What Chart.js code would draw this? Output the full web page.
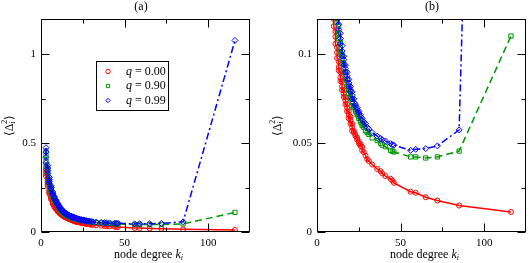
<!DOCTYPE html>
<html>
<head>
<meta charset="utf-8">
<script src="https://cdn.jsdelivr.net/npm/chart.js@4.4.1/dist/chart.umd.min.js"></script>
<style>
html, body { margin: 0; padding: 0; background: #fff; }
#wrap { position: relative; width: 531px; height: 263px; }
canvas { position: absolute; top: 0; }
</style>
</head>
<body>
<div id="wrap">
  <canvas id="chartA" width="265" height="263" style="left:0"></canvas>
  <canvas id="chartB" width="266" height="263" style="left:265px"></canvas>
</div>
<script>
// node degrees k_i (one entry per plotted node, sorted)
const degrees = [
  3, 3, 3, 3, 4, 4, 4, 4, 5, 5, 5, 5, 6, 6, 6, 7, 7, 7, 8, 8, 8,
  9, 9, 9, 10, 10, 10, 11, 11, 11, 12, 12, 12, 13, 13, 13, 14, 14, 14,
  15, 15, 15, 16, 16, 16, 17, 17, 17, 18, 18, 18, 19, 19, 19, 20, 20, 20, 21, 21, 21,
  22, 22, 23, 23, 24, 24, 25, 25, 26, 26, 27, 27,
  28, 29, 30, 31, 33, 36, 38, 39, 41, 44, 45, 46,
  56, 59, 65, 72, 85, 116
];

// <Delta_i^2> for q = 0.00
const q000 = [
  0.355, 0.345, 0.33, 0.315, 0.29, 0.28, 0.27, 0.26, 0.238, 0.23, 0.222, 0.214,
  0.20, 0.192, 0.184, 0.173, 0.166, 0.159, 0.152, 0.146, 0.14,
  0.137, 0.133, 0.129, 0.123, 0.12, 0.116, 0.113, 0.11, 0.106, 0.104, 0.101, 0.098,
  0.096, 0.093, 0.091, 0.09, 0.087, 0.085,
  0.085, 0.082, 0.080, 0.08, 0.078, 0.076, 0.076, 0.074, 0.072, 0.072, 0.07, 0.068,
  0.068, 0.066, 0.064, 0.065, 0.063, 0.061, 0.061, 0.059, 0.057,
  0.057, 0.056, 0.055, 0.054, 0.053, 0.052, 0.051, 0.050, 0.0495, 0.0485, 0.048, 0.046,
  0.045, 0.043, 0.041, 0.040, 0.038, 0.0355, 0.0343, 0.033, 0.0315, 0.030, 0.029, 0.0277,
  0.0227, 0.0221, 0.0196, 0.0177, 0.0149, 0.0113
];

// <Delta_i^2> for q = 0.90
const q090 = [
  0.455, 0.43, 0.40, 0.37, 0.36, 0.345, 0.33, 0.315, 0.292, 0.282, 0.272, 0.262,
  0.247, 0.238, 0.229, 0.214, 0.207, 0.2, 0.188, 0.182, 0.176,
  0.169, 0.165, 0.161, 0.152, 0.148, 0.144, 0.138, 0.134, 0.13, 0.126, 0.122, 0.118,
  0.116, 0.112, 0.109, 0.107, 0.104, 0.101,
  0.1, 0.097, 0.095, 0.095, 0.092, 0.09, 0.09, 0.088, 0.086, 0.086, 0.084, 0.082,
  0.082, 0.08, 0.078, 0.078, 0.076, 0.075, 0.075, 0.073, 0.071,
  0.071, 0.070, 0.069, 0.068, 0.067, 0.066, 0.065, 0.064, 0.063, 0.062, 0.061, 0.060,
  0.059, 0.057, 0.056, 0.055, 0.053, 0.0515, 0.050, 0.049, 0.048, 0.046, 0.0455, 0.0451,
  0.0423, 0.0423, 0.0417, 0.0423, 0.0456, 0.1104
];

// <Delta_i^2> for q = 0.99
const q099 = [
  0.475, 0.45, 0.42, 0.39, 0.375, 0.36, 0.345, 0.33, 0.308, 0.297, 0.286, 0.275,
  0.26, 0.251, 0.242, 0.226, 0.218, 0.21, 0.199, 0.193, 0.187,
  0.179, 0.174, 0.169, 0.161, 0.156, 0.152, 0.146, 0.141, 0.137, 0.132, 0.128, 0.124,
  0.121, 0.117, 0.114, 0.112, 0.109, 0.106,
  0.105, 0.102, 0.099, 0.099, 0.097, 0.094, 0.094, 0.092, 0.09, 0.09, 0.088, 0.086,
  0.086, 0.084, 0.082, 0.082, 0.08, 0.079, 0.079, 0.077, 0.075,
  0.075, 0.073, 0.072, 0.071, 0.070, 0.069, 0.068, 0.067, 0.066, 0.065, 0.064, 0.063,
  0.062, 0.061, 0.059, 0.058, 0.056, 0.054, 0.0527, 0.052, 0.0513, 0.0498, 0.0492, 0.0489,
  0.046, 0.0466, 0.047, 0.0485, 0.0575, 1.079
];

const qLabels = ['0.00', '0.90', '0.99'];
const xTicksMinor = [25, 75];
const yTicksMinorA = [0.25, 0.75];
const yTicksMinorB = [0.025, 0.075];

const SERIF = '"Liberation Serif", "Times New Roman", serif';
const RED = 'rgb(255,0,0)', GREEN = 'rgb(0,150,0)', BLUE = 'rgb(0,0,255)';

// draws a run of text pieces (italic / sub / superscript), centred on x
function richText(ctx, parts, x, y) {
  let w = 0;
  parts.forEach(p => {
    ctx.font = (p.italic ? 'italic ' : '') + (p.size || 12) + 'px ' + SERIF;
    p.w = ctx.measureText(p.t).width;
    if (p.adv !== false) w += p.w;
  });
  let cx = x - w / 2;
  ctx.textBaseline = 'middle';
  ctx.textAlign = 'left';
  parts.forEach(p => {
    ctx.font = (p.italic ? 'italic ' : '') + (p.size || 12) + 'px ' + SERIF;
    ctx.fillText(p.t, cx, y + (p.dy || 0));
    if (p.adv !== false) cx += p.w;
  });
}

function marker(ctx, style, color, x, y, r) {
  ctx.strokeStyle = color;
  ctx.lineWidth = 1;
  ctx.setLineDash([]);
  ctx.beginPath();
  if (style === 'circle') ctx.arc(x, y, r, 0, Math.PI * 2);
  else if (style === 'rect') ctx.rect(x - r * 0.75, y - r * 0.75, r * 1.5, r * 1.5);
  else { ctx.moveTo(x, y - r); ctx.lineTo(x + r, y); ctx.lineTo(x, y + r); ctx.lineTo(x - r, y); ctx.closePath(); }
  ctx.stroke();
}

const framePlugin = {
  id: 'frame',
  afterDraw(chart, args, opts) {
    const { ctx, chartArea: a, scales: { x, y } } = chart;
    ctx.save();
    ctx.strokeStyle = '#000';
    ctx.lineWidth = 1;
    ctx.setLineDash([]);
    const L = Math.round(a.left) + 0.5, R = Math.round(a.right) - 0.5;
    const T = Math.round(a.top) + 0.5, B = Math.round(a.bottom) - 0.5;
    ctx.strokeRect(L, T, R - L, B - T);

    // inward ticks on all four sides
    ctx.beginPath();
    const xt = (v, len) => {
      const px = Math.round(x.getPixelForValue(v)) + 0.5;
      ctx.moveTo(px, B); ctx.lineTo(px, B - len);
      ctx.moveTo(px, T); ctx.lineTo(px, T + len);
    };
    const yt = (v, len) => {
      const py = Math.round(y.getPixelForValue(v)) + 0.5;
      ctx.moveTo(L, py); ctx.lineTo(L + len, py);
      ctx.moveTo(R, py); ctx.lineTo(R - len, py);
    };
    x.ticks.forEach(t => xt(t.value, 8));
    opts.xMinor.forEach(v => xt(v, 4));
    y.ticks.forEach(t => yt(t.value, 8));
    opts.yMinor.forEach(v => yt(v, 4));
    ctx.stroke();

    ctx.fillStyle = '#000';
    richText(ctx, [{ t: opts.title, size: 12 }], opts.titleX, 7);
    richText(ctx, [
      { t: 'node degree ', size: 12 },
      { t: 'k', size: 12, italic: true },
      { t: 'i', size: 8, italic: true, dy: 3 }
    ], (a.left + a.right) / 2 + 3, 255);

    ctx.save();
    ctx.translate(opts.yLabelX, (a.top + a.bottom) / 2);
    ctx.rotate(-Math.PI / 2);
    richText(ctx, [
      { t: '\u27E8\u0394', size: 12 },
      { t: 'i', size: 8, italic: true, dy: 3, adv: false },
      { t: '2', size: 8, dy: -5 },
      { t: '\u27E9', size: 12 }
    ], 0, 0);
    ctx.restore();

    if (opts.legend) {
      ctx.strokeStyle = '#000';
      ctx.strokeRect(96.5, 61.5, 72, 49);
      const cols = [RED, GREEN, BLUE];
      const styles = ['circle', 'rect', 'rectRot'];
      qLabels.forEach((q, i) => {
        const ly = 71.5 + i * 14.5;
        marker(ctx, styles[i], cols[i], 108, ly, 2.2);
        ctx.fillStyle = '#000';
        ctx.textBaseline = 'middle';
        ctx.textAlign = 'left';
        ctx.font = 'italic 12px ' + SERIF;
        ctx.fillText('q', 126, ly);
        const qw = ctx.measureText('q').width;
        ctx.font = '12px ' + SERIF;
        ctx.fillText(' = ' + q, 126 + qw, ly);
      });
    }
    ctx.restore();
  }
};

function series(label, vals, color, style, dash) {
  return {
    label,
    data: degrees.map((k, i) => ({ x: k, y: vals[i] })),
    borderColor: color,
    backgroundColor: 'rgba(0,0,0,0)',
    borderWidth: 1.5,
    borderDash: dash,
    pointStyle: style,
    pointRadius: style === 'circle' ? 2.5 : 3,
    pointBorderWidth: 1,
    pointBorderColor: color,
    pointBackgroundColor: 'rgba(0,0,0,0)',
    tension: 0,
    fill: false,
    clip: 0
  };
}

function makeChart(id, cfg) {
  const tickFont = { family: SERIF, size: 11 };
  return new Chart(document.getElementById(id), {
    type: 'line',
    data: {
      datasets: [
        series('q = 0.99', q099, BLUE, 'rectRot', [7, 3, 2, 3]),
        series('q = 0.90', q090, GREEN, 'rect', [7, 4]),
        series('q = 0.00', q000, RED, 'circle', [])
      ]
    },
    options: {
      responsive: false,
      animation: false,
      events: [],
      layout: { padding: { left: 0, right: cfg.padRight, top: 19, bottom: 0 } },
      plugins: {
        legend: { display: false },
        tooltip: { enabled: false },
        frame: cfg
      },
      scales: {
        x: {
          type: 'linear', min: 0, max: 125,
          afterFit: s => { s.height = 31; },
          grid: { display: false, drawTicks: false, tickLength: 0 },
          border: { display: false },
          ticks: { stepSize: 50, includeBounds: false, padding: 5, color: '#000', font: tickFont, maxRotation: 0, autoSkip: false }
        },
        y: {
          type: 'linear', min: 0, max: cfg.yMax,
          afterFit: s => { s.width = cfg.yWidth; },
          grid: { display: false, drawTicks: false, tickLength: 0 },
          border: { display: false },
          ticks: {
            stepSize: cfg.yStep, includeBounds: false, padding: 5, color: '#000', font: tickFont, autoSkip: false,
            callback: v => String(+v.toFixed(4))
          }
        }
      }
    },
    plugins: [framePlugin]
  });
}

makeChart('chartA', {
  yMax: 1.2, yStep: 0.5, yWidth: 41, padRight: 15,
  xMinor: xTicksMinor, yMinor: yTicksMinorA,
  title: '(a)', titleX: 141, yLabelX: 10, legend: true
});
makeChart('chartB', {
  yMax: 0.12, yStep: 0.05, yWidth: 52, padRight: 1,
  xMinor: xTicksMinor, yMinor: yTicksMinorB,
  title: '(b)', titleX: 167, yLabelX: 13, legend: false
});
</script>
</body>
</html>
